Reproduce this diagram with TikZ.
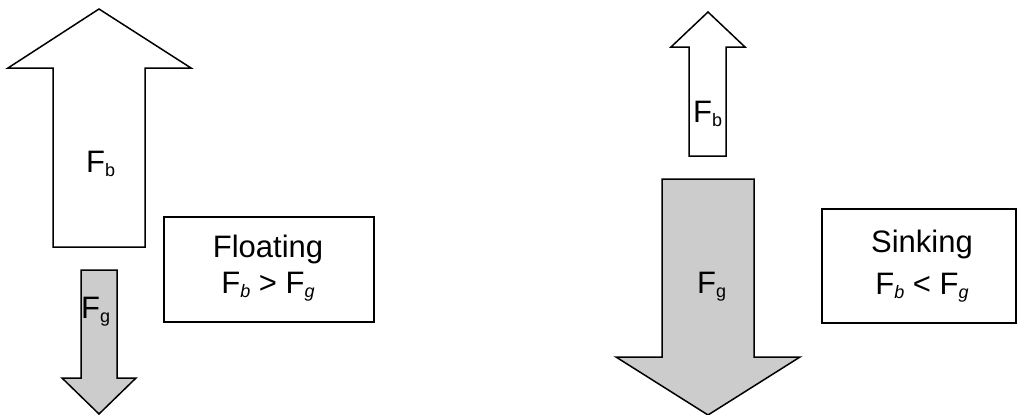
\documentclass[tikz,border=0pt]{standalone}
\usepackage{fontspec}
\setmainfont{Liberation Sans}
\newcommand\subup[1]{\raisebox{-4.5pt}{\fontsize{18}{18}\selectfont #1}}
\newcommand\subit[1]{\raisebox{-4.5pt}{\fontsize{18}{18}\selectfont\itshape #1}}
\begin{document}
\begin{tikzpicture}[x=1pt,y=-1pt,
  arrowbody/.style={draw=black,line width=1.5pt,line join=miter},
  upshape/.style={arrowbody,fill=white},
  downshape/.style={arrowbody,fill=black!20},
  lbl/.style={anchor=base west,inner sep=0pt,font=\fontsize{31}{36}\selectfont},
  boxtxt/.style={anchor=base,inner sep=0pt,font=\fontsize{31}{36}\selectfont},
  framebox/.style={draw=black,line width=1.5pt,fill=white}]
\useasboundingbox (0,0) rectangle (1018,415);
% left: floating
\draw[upshape] (99,9) -- (191,68) -- (145,68) -- (145,247) -- (53,247) -- (53,68) -- (8,68) -- cycle;
\node[lbl] (fbL) at (86,172) {F\subup{b}};
\draw[downshape] (81,270) -- (117,270) -- (117,378) -- (136,378) -- (99,414) -- (62,378) -- (81,378) -- cycle;
\node[lbl] (fgL) at (81,318) {F\subup{g}};
\path[framebox] (164,217) rectangle (374,322);
\node[boxtxt] (floatT) at (268,257) {Floating};
\node[boxtxt] (floatR) at (268,293) {F\subit{b} {>} F\subit{g}};
% right: sinking
\draw[upshape] (708,12) -- (745,47) -- (726,47) -- (726,156) -- (689,156) -- (689,47) -- (671,47) -- cycle;
\node[lbl] (fbR) at (693,122) {F\subup{b}};
\draw[downshape] (662,179) -- (754,179) -- (754,357) -- (800,357) -- (708,415) -- (616,357) -- (662,357) -- cycle;
\node[lbl] (fgR) at (697,293) {F\subup{g}};
\path[framebox] (822,209) rectangle (1016,323);
\node[boxtxt] (sinkT) at (922,252) {Sinking};
\node[boxtxt] (sinkR) at (922,294) {F\subit{b} {<} F\subit{g}};
\end{tikzpicture}
\end{document}
